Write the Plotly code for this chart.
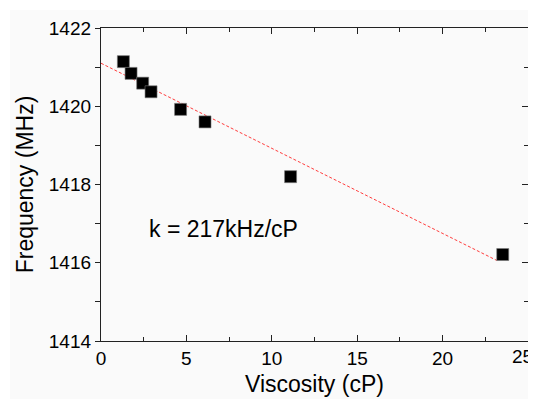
import plotly.graph_objects as go

viscosity = [1.31, 1.76, 2.44, 2.93, 4.66, 6.09, 11.1, 23.52]
frequency = [1421.14, 1420.84, 1420.59, 1420.37, 1419.92, 1419.60, 1418.20, 1416.21]
fit_x = [0, 23.17]
fit_y = [1421.10, 1416.06]
x_ticks = [0, 5, 10, 15, 20, 25]
x_tick_labels = ["0", "5", "10", "15", "20", "25"]
y_ticks = [1414, 1416, 1418, 1420, 1422]
annotation_text = "k = 217kHz/cP"

FONT = "Arial, Liberation Sans, sans-serif"
BG = "#fafafa"

# page body has an 8px margin; figure is sized to fill the rest of the window
W, H = 528, 391
L, R, T, B = 93, 8, 20, 58
PW, PH = W - L - R, H - T - B

fig = go.Figure()
fig.add_trace(go.Scatter(
    x=fit_x, y=fit_y, mode="lines",
    line=dict(color="rgba(255,40,40,0.9)", width=1, dash="3px,2px"),
    showlegend=False, hoverinfo="skip"))
fig.add_trace(go.Scatter(
    x=viscosity, y=frequency, mode="markers",
    marker=dict(symbol="square", size=12, color="black",
                line=dict(color="#777", width=0.6)),
    showlegend=False))
# invisible trace to anchor right-side axis
fig.add_trace(go.Scatter(x=[viscosity[0]], y=[frequency[0]], yaxis="y2",
                         mode="markers", marker=dict(opacity=0),
                         showlegend=False, hoverinfo="skip"))

axis_font = dict(family=FONT, size=19, color="black")
# last label sits at the window edge: draw it as a right-anchored annotation
shown_labels = x_tick_labels[:-1] + [""]

fig.update_layout(
    width=W, height=H,
    margin=dict(l=L, r=R, t=T, b=B, autoexpand=False),
    paper_bgcolor="white", plot_bgcolor=BG,
    font=dict(family=FONT, color="black"),
    xaxis=dict(range=[0, 25], tickvals=x_ticks, ticktext=shown_labels,
               ticks="inside", ticklen=6,
               tickwidth=1.3, tickcolor="#222", showline=True, linecolor="#222",
               linewidth=1.3, mirror="ticks", showgrid=False, zeroline=False,
               tickfont=axis_font, automargin=False,
               minor=dict(dtick=2.5, tick0=0, ticks="inside", ticklen=4,
                          tickcolor="#222", tickwidth=1.2),
               title=dict(text="Viscosity (cP)", font=dict(family=FONT, size=23),
                          standoff=7)),
    yaxis=dict(range=[1414, 1422], tickvals=y_ticks, ticks="outside", ticklen=5,
               tickwidth=1.3, tickcolor="#222", showline=True, linecolor="#222",
               linewidth=1.3, mirror=True, showgrid=False, zeroline=False,
               tickfont=axis_font, automargin=False,
               minor=dict(dtick=1, tick0=1414, ticks="outside", ticklen=5,
                          tickcolor="#222", tickwidth=1.2),
               title=dict(text="Frequency (MHz)", font=dict(family=FONT, size=23),
                          standoff=8)),
    yaxis2=dict(range=[1414, 1422], overlaying="y", side="right",
                tickvals=y_ticks, ticks="inside", ticklen=6, tickwidth=1.3,
                tickcolor="#222", showticklabels=False, showgrid=False,
                zeroline=False, showline=False, automargin=False,
                minor=dict(dtick=1, tick0=1414, ticks="inside", ticklen=4,
                           tickcolor="#222", tickwidth=1.2)),
    shapes=[dict(type="rect", xref="paper", yref="paper", layer="below",
                 x0=(2 - L) / PW, x1=(W + 4 - L) / PW,
                 y0=(PH + T - H - 4) / PH, y1=(PH + T - 2) / PH,
                 fillcolor=BG, line=dict(width=0))],
    annotations=[
        dict(x=2.68, y=1416.85, xref="x", yref="y", xanchor="left",
             yanchor="middle", text=annotation_text, showarrow=False,
             font=dict(family=FONT, size=23, color="black")),
        dict(x=(W - 1 - L) / PW, y=-0.051, xref="paper", yref="paper",
             xanchor="right", yanchor="middle", text=x_tick_labels[-1],
             showarrow=False, font=axis_font),
    ],
)

fig.write_html("out.html")
